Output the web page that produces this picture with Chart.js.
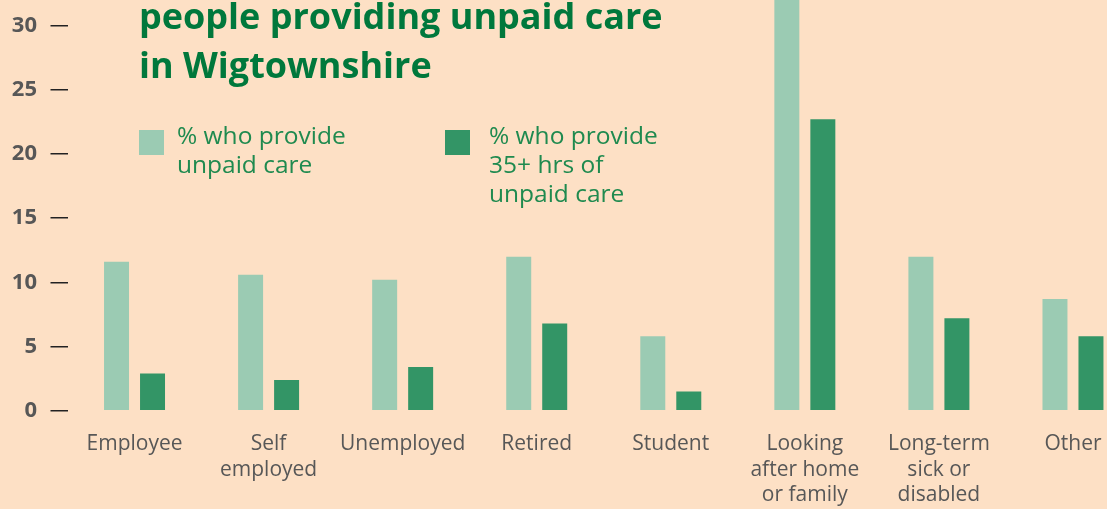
<!DOCTYPE html>
<html>
<head>
<meta charset="utf-8">
<script src="https://cdn.jsdelivr.net/npm/chart.js@4"></script>
<style>
  html, body { margin:0; padding:0; width:1107px; height:509px; overflow:hidden; background:#fde0c5; }
  #wrap { position:absolute; left:0; top:0; width:1140px; height:509px; }
  #title { position:absolute; left:139px; top:-9px; font-family:"Open Sans", sans-serif; font-weight:700; font-size:36px; line-height:49px; color:#00783c; white-space:nowrap; }
  .leg { position:absolute; font-family:"Open Sans", sans-serif; font-size:24.5px; line-height:29px; color:#1f8a4f; white-space:nowrap; }
  .sw { position:absolute; width:25px; height:25px; }
</style>
</head>
<body>
<div id="wrap"><canvas id="c" width="1140" height="509"></canvas></div>
<div id="title">people providing unpaid care<br>in Wigtownshire</div>
<div class="sw" style="left:139px; top:130px; background:#9bcbb3;"></div>
<div class="leg" style="left:177px; top:120px;">% who provide<br>unpaid care</div>
<div class="sw" style="left:445px; top:130px; background:#339566;"></div>
<div class="leg" style="left:489px; top:120px;">% who provide<br>35+ hrs of<br>unpaid care</div>
<script>
const categories = [
  "Employee",
  ["Self", "employed"],
  "Unemployed",
  "Retired",
  "Student",
  ["Looking", "after home", "or family"],
  ["Long-term", "sick or", "disabled"],
  "Other"
];
const seriesNames = ["% who provide unpaid care", "% who provide 35+ hrs of unpaid care"];
const unpaidCare = [11.6, 10.6, 10.2, 12.0, 5.8, 33.0, 12.0, 8.7];
const unpaidCare35 = [2.9, 2.4, 3.4, 6.8, 1.5, 22.7, 7.2, 5.8];
const yTicks = [0, 5, 10, 15, 20, 25, 30];

new Chart(document.getElementById('c'), {
  type: 'bar',
  data: {
    labels: categories,
    datasets: [
      { label: seriesNames[0], data: unpaidCare, backgroundColor: '#9bcbb3', borderWidth: 0,
        categoryPercentage: 0.537, barPercentage: 0.694 },
      { label: seriesNames[1], data: unpaidCare35, backgroundColor: '#339566', borderWidth: 0,
        categoryPercentage: 0.537, barPercentage: 0.694 }
    ]
  },
  options: {
    responsive: false,
    animation: false,
    layout: { padding: 0 },
    plugins: { legend: { display: false }, tooltip: { enabled: false }, title: { display: false } },
    scales: {
      x: {
        grid: { display: false },
        border: { display: false },
        ticks: {
          autoSkip: false, maxRotation: 0, minRotation: 0, padding: 13,
          color: '#575757',
          font: { family: 'Open Sans', size: 21, lineHeight: 1.21 }
        },
        afterFit: (s) => { s.height = 98.3; s.paddingLeft = 0; s.paddingRight = 0; }
      },
      y: {
        min: 0, max: 32,
        afterBuildTicks: (s) => { s.ticks = yTicks.map(v => ({ value: v })); },
        grid: { drawOnChartArea: false, drawTicks: true, tickLength: 17, color: '#222', lineWidth: 1.5 },
        border: { display: false },
        ticks: {
          padding: 13.5, color: '#575757',
          font: { family: 'Open Sans', size: 22, weight: 'bold' }
        },
        afterFit: (s) => { s.width = 67.5; s.paddingTop = 0; s.paddingBottom = 0; }
      }
    }
  }
});
</script>
</body>
</html>
